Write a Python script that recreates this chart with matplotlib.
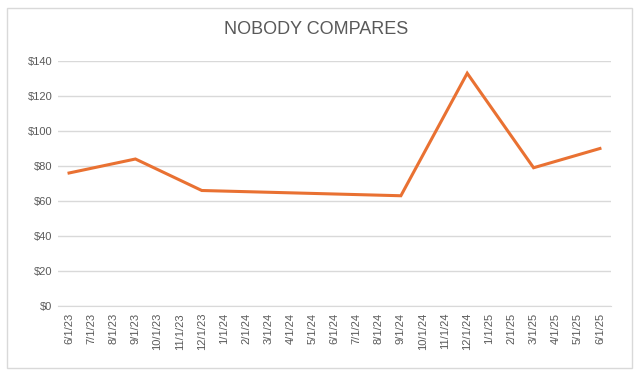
import matplotlib
matplotlib.use("Agg")
import matplotlib.pyplot as plt
from matplotlib.patches import Rectangle
from matplotlib.ticker import FuncFormatter, MultipleLocator

months = ["6/1/23", "7/1/23", "8/1/23", "9/1/23", "10/1/23", "11/1/23", "12/1/23",
          "1/1/24", "2/1/24", "3/1/24", "4/1/24", "5/1/24", "6/1/24", "7/1/24",
          "8/1/24", "9/1/24", "10/1/24", "11/1/24", "12/1/24", "1/1/25", "2/1/25",
          "3/1/25", "4/1/25", "5/1/25", "6/1/25"]
point_dates = ["6/1/23", "9/1/23", "12/1/23", "3/1/24", "6/1/24", "9/1/24",
               "12/1/24", "3/1/25", "6/1/25"]
point_values = [76, 84, 66, 65, 64, 63, 133, 79, 90]

plt.rcParams['font.family'] = ['Liberation Sans', 'DejaVu Sans']
fig = plt.figure(figsize=(6.4, 3.75), dpi=100)
fig.patches.append(Rectangle((7/640, 1 - 368/375), 625/640, 360/375,
                             transform=fig.transFigure, fill=False,
                             edgecolor='#d9d9d9', linewidth=1))
ax = fig.add_axes([58/640, 1 - 306/375, 553/640, 245/375])

xpos = [months.index(d) for d in point_dates]
ax.plot(xpos, point_values, color='#E97132', linewidth=2.2, solid_joinstyle='miter')

ax.set_xlim(-0.5, len(months) - 0.5)
ax.set_ylim(0, 140)
ax.yaxis.set_major_locator(MultipleLocator(20))
ax.yaxis.set_major_formatter(FuncFormatter(lambda v, p: f"${v:.0f}"))
ax.set_xticks(range(len(months)))
ax.set_xticklabels(months, rotation=90)
ax.grid(axis='y', color='#d9d9d9', linewidth=1)
ax.set_axisbelow(True)
for s in ['top', 'right', 'left']:
    ax.spines[s].set_visible(False)
ax.spines['bottom'].set_color('#d9d9d9')
ax.tick_params(axis='both', length=0, labelsize=8, colors='#595959')
ax.tick_params(axis='x', pad=5)
ax.tick_params(axis='y', pad=4)

fig.text(316/640, 1 - 30/375, "NOBODY COMPARES", ha='center', va='center',
         fontsize=13, color='#595959')

fig.savefig("out.png", dpi=100)
